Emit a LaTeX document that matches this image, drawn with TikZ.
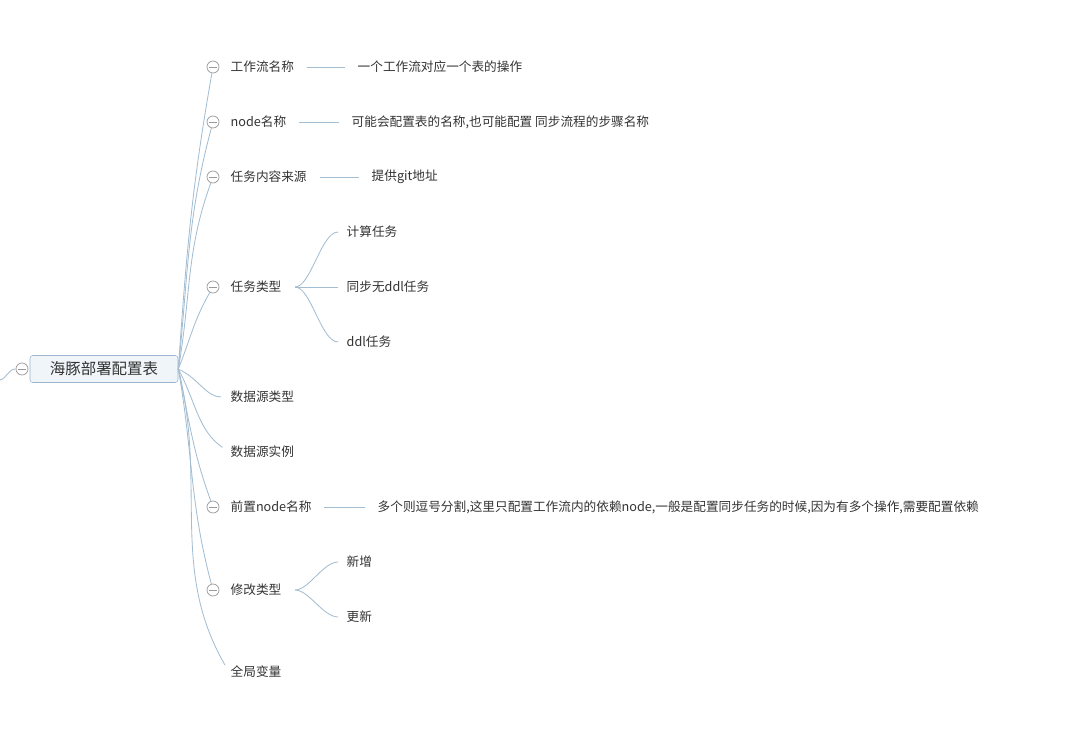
\documentclass[tikz,border=0pt]{standalone}
\usepackage{fontspec}
\usepackage{xcolor}
\usepackage{tikz}
\newfontfamily\cjk{Noto Sans CJK SC}
\definecolor{ink}{HTML}{333333}
\definecolor{branchline}{HTML}{A3BDD2}
\definecolor{foldline}{HTML}{999999}
\definecolor{rootfill}{HTML}{F0F5FA}
\definecolor{rootline}{HTML}{9AB5CC}

\begin{document}
\begin{tikzpicture}[x=0.025cm, y=-0.025cm,
  root/.style={rectangle, draw=rootline, fill=rootfill, rounded corners=2pt,
               minimum width=3.7cm, minimum height=0.675cm,
               font=\cjk\fontsize{11}{13}\selectfont, text=ink},
  topic/.style={anchor=west, inner sep=1pt,
                font=\cjk\fontsize{9}{11}\selectfont, text=ink},
  fold/.style={circle, draw=foldline, fill=white, minimum size=0.3cm,
               inner sep=0pt, line width=0.5pt,
               path picture={\draw[foldline, line width=0.5pt]
                 ([xshift=1.6pt]path picture bounding box.west) --
                 ([xshift=-1.6pt]path picture bounding box.east);}},
  branch/.style={draw=branchline, line width=0.6pt}]
  \useasboundingbox (0,0) rectangle (1080,730);
  \node[root] (root) at (104,369) {海豚部署配置表};
  \node[fold] (f0) at (22,369) {};
  \coordinate (up) at (0,380);
  \node[fold] (f1) at (213,67) {};
  \node[topic] (t1) at (229,67) {工作流名称};
  \node[topic] (d1) at (356,67) {一个工作流对应一个表的操作};
  \node[fold] (f2) at (213,122) {};
  \node[topic] (t2) at (229,122) {node名称};
  \node[topic] (d2) at (350,122) {可能会配置表的名称,也可能配置 同步流程的步骤名称};
  \node[fold] (f3) at (213,177) {};
  \node[topic] (t3) at (229,177) {任务内容来源};
  \node[topic] (d3) at (370,177) {提供git地址};
  \node[fold] (f4) at (213,287) {};
  \node[topic] (t4) at (229,287) {任务类型};
  \node[topic] (k1) at (345,232) {计算任务};
  \node[topic] (k2) at (345,287) {同步无ddl任务};
  \node[topic] (k3) at (345,342) {ddl任务};
  \node[topic] (t5) at (229,397) {数据源类型};
  \node[topic] (t6) at (229,452) {数据源实例};
  \node[fold] (f7) at (213,507) {};
  \node[topic] (t7) at (229,507) {前置node名称};
  \node[topic] (d7) at (376,507) {多个则逗号分割,这里只配置工作流内的依赖node,一般是配置同步任务的时候,因为有多个操作,需要配置依赖};
  \node[fold] (f8) at (213,590) {};
  \node[topic] (t8) at (229,590) {修改类型};
  \node[topic] (m1) at (345,562) {新增};
  \node[topic] (m2) at (345,617) {更新};
  \node[topic] (t9) at (229,672) {全局变量};
  \draw[branch] (up) to[out=15, in=180] (f0);
  \draw[branch] (root.east) to[out=86, in=-100] (f1);
  \draw[branch] (root.east) to[out=84, in=-105] (f2);
  \draw[branch] (root.east) to[out=80, in=-110] (f3);
  \draw[branch] (root.east) to[out=68, in=-120] (f4);
  \draw[branch, shorten >=0.2cm] (root.east) to[out=-25, in=180] (t5.west);
  \draw[branch, shorten >=0.2cm] (root.east) to[out=-62, in=145] (t6.west);
  \draw[branch] (root.east) to[out=-78, in=110] (f7);
  \draw[branch] (root.east) to[out=-80, in=105] (f8);
  \draw[branch, shorten >=0.2cm] (root.east) to[out=-76, in=120] (t9.west);
  \draw[branch, shorten <=0.28cm, shorten >=0.28cm] (t1.east) -- (d1.west);
  \draw[branch, shorten <=0.28cm, shorten >=0.28cm] (t2.east) -- (d2.west);
  \draw[branch, shorten <=0.28cm, shorten >=0.28cm] (t3.east) -- (d3.west);
  \draw[branch, shorten <=0.28cm, shorten >=0.28cm] (t7.east) -- (d7.west);
  \draw[branch, shorten <=0.3cm, shorten >=0.17cm] (t4.east) .. controls +(28,0) and +(-24,0) .. (k1.west);
  \draw[branch, shorten <=0.3cm, shorten >=0.17cm] (t4.east) -- (k2.west);
  \draw[branch, shorten <=0.3cm, shorten >=0.17cm] (t4.east) .. controls +(28,0) and +(-24,0) .. (k3.west);
  \draw[branch, shorten <=0.3cm, shorten >=0.17cm] (t8.east) .. controls +(26,0) and +(-22,0) .. (m1.west);
  \draw[branch, shorten <=0.3cm, shorten >=0.17cm] (t8.east) .. controls +(26,0) and +(-22,0) .. (m2.west);
\end{tikzpicture}
\end{document}
